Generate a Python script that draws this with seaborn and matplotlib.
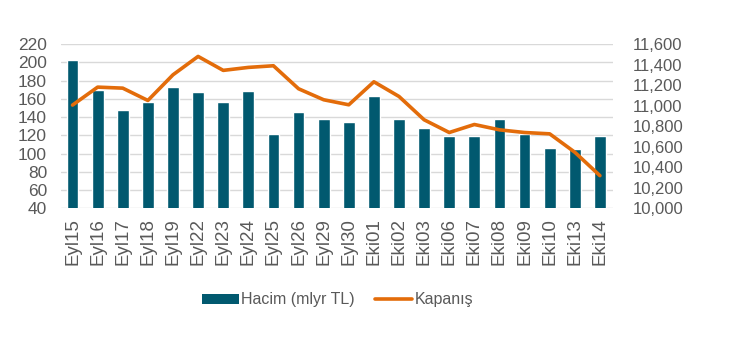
import numpy as np
import pandas as pd
import matplotlib
matplotlib.use("Agg")
import matplotlib.pyplot as plt
import seaborn as sns
from matplotlib.patches import Patch
from matplotlib.lines import Line2D
from matplotlib.ticker import FuncFormatter

categories = ["Eyl15", "Eyl16", "Eyl17", "Eyl18", "Eyl19", "Eyl22", "Eyl23", "Eyl24",
              "Eyl25", "Eyl26", "Eyl29", "Eyl30", "Eki01", "Eki02", "Eki03", "Eki06",
              "Eki07", "Eki08", "Eki09", "Eki10", "Eki13", "Eki14"]
hacim = [202, 170, 148, 156, 173, 167, 156, 168, 121, 145, 138, 134,
         163, 138, 128, 119, 119, 138, 121, 106, 105, 119]
kapanis = [11005, 11180, 11170, 11050, 11300, 11479, 11343, 11372, 11388, 11164, 11057, 11008,
           11232, 11089, 10862, 10738, 10816, 10764, 10738, 10725, 10546, 10318]
left_ticks = list(range(40, 221, 20))
right_ticks = list(range(10000, 11601, 200))

bar_color = "#01596F"
line_color = "#E36C0A"
text_color = "#595959"
grid_color = "#D9D9D9"

sns.set_theme(style="white")
plt.rcParams['font.family'] = ['Liberation Sans', 'DejaVu Sans']

fig = plt.figure(figsize=(7.5, 3.4), dpi=100)
ax = fig.add_axes([0.0813, 0.3874, 0.736, 0.4832])

df = pd.DataFrame({"cat": categories, "hacim": hacim})
sns.barplot(data=df, x="cat", y="hacim", color=bar_color, width=0.47, ax=ax,
            saturation=1, zorder=2)
ax.set_ylim(40, 220)
ax.set_yticks(left_ticks)
ax.set_xlim(-0.46, 21.52)
ax.yaxis.grid(True, color=grid_color, linewidth=1, zorder=0)
ax.set_axisbelow(True)
for s in ax.spines.values():
    s.set_visible(False)
ax.set_xlabel("")
ax.set_ylabel("")
ax.tick_params(axis="x", rotation=90, labelsize=13.5, colors=text_color, length=0, pad=7)
ax.tick_params(axis="y", labelsize=12.5, colors=text_color, length=0, pad=10)

ax2 = ax.twinx()
sns.lineplot(x=np.arange(len(categories)), y=kapanis, color=line_color, linewidth=2.6,
             ax=ax2, zorder=3)
ax2.set_ylim(10000, 11600)
ax2.set_yticks(right_ticks)
ax2.yaxis.set_major_formatter(FuncFormatter(lambda v, p: f"{int(v):,}"))
ax2.tick_params(axis="y", labelsize=12, colors=text_color, length=0, pad=14)
for s in ax2.spines.values():
    s.set_visible(False)
ax2.grid(False)
ax2.set_ylabel("")

handles = [Patch(facecolor=bar_color, edgecolor="none", label="Hacim (mlyr TL)"),
           Line2D([0], [0], color=line_color, linewidth=2.6, label="Kapanış")]
fig.legend(handles=handles, loc="center", bbox_to_anchor=(0.45, 0.118), ncol=2,
           frameon=False, fontsize=11.5, handlelength=2.3, handleheight=0.6,
           handletextpad=0.15, columnspacing=1.3, labelcolor=text_color)

fig.savefig("out.png", dpi=100)
